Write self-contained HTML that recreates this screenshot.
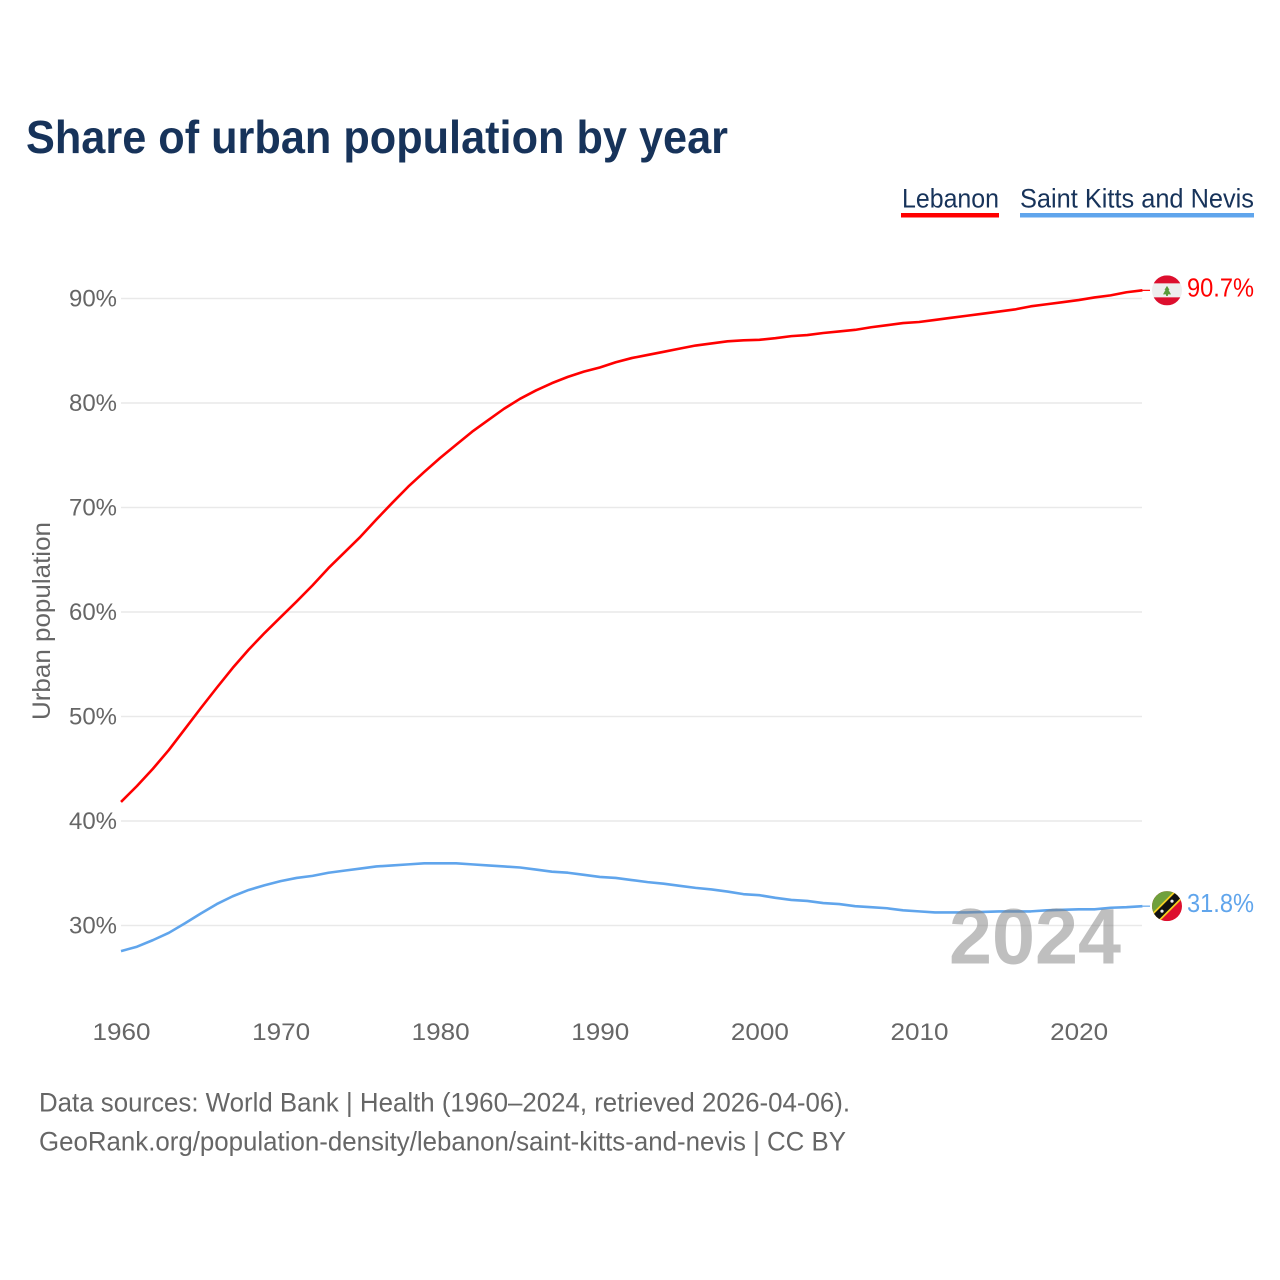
<!DOCTYPE html>
<html lang="en">
<head>
<meta charset="utf-8">
<title>Share of urban population by year</title>
<style>
html,body{margin:0;padding:0;background:#fff;width:1280px;height:1280px;overflow:hidden}
svg{display:block}
text{font-family:"Liberation Sans",sans-serif}
</style>
</head>
<body>
<svg id="chart" xmlns="http://www.w3.org/2000/svg" width="1280" height="1280" viewBox="0 0 1280 1280">
  <text x="26" y="153" font-size="46" font-weight="700" fill="#17335a" textLength="702" lengthAdjust="spacingAndGlyphs">Share of urban population by year</text>

  <g>
    <g>
      <text x="902" y="207.5" font-size="27" fill="#17335a" textLength="97" lengthAdjust="spacingAndGlyphs">Lebanon</text>
      <rect x="901" y="213" width="98" height="4.5" fill="#ff0000"></rect>
    </g>
    <g>
      <text x="1020" y="207.5" font-size="27" fill="#17335a" textLength="234" lengthAdjust="spacingAndGlyphs">Saint Kitts and Nevis</text>
      <rect x="1020" y="213" width="234" height="4.5" fill="#60a5ec"></rect>
    </g>
  </g>

  <text transform="translate(50,720) rotate(-90)" font-size="25" fill="#666666" textLength="198" lengthAdjust="spacingAndGlyphs">Urban population</text>

  <g id="grid"></g>
  <g id="y-ticks"></g>
  <g id="x-ticks"></g>
  <g id="series"></g>

  <text x="949" y="963.5" font-size="79" font-weight="700" fill="#808080" fill-opacity="0.5" textLength="172" lengthAdjust="spacingAndGlyphs">2024</text>

  <g id="end-lebanon">
    <defs>
      <clipPath id="clip-lb"><circle cx="0" cy="0" r="15"></circle></clipPath>
      <clipPath id="clip-kn"><circle cx="0" cy="0" r="15"></circle></clipPath>
    </defs>
    <g id="flag-lebanon" clip-path="url(#clip-lb)">
      <rect x="-15" y="-15" width="30" height="30" fill="#eeeeee"></rect>
      <rect x="-15" y="-15" width="30" height="8" fill="#dd0f2e"></rect>
      <rect x="-15" y="7" width="30" height="8" fill="#dd0f2e"></rect>
      <polygon points="0,-4.5 2.5,-0.5 1.5,-0.5 4,4 1,4 1,5.5 -1,5.5 -1,4 -4,4 -1.5,-0.5 -2.5,-0.5" fill="#5a9a3a"></polygon>
    </g>
  </g>
  <g id="end-kitts">
    <g id="flag-kitts" clip-path="url(#clip-kn)">
      <rect x="-15" y="-15" width="30" height="30" fill="#dd0f2e"></rect>
      <polygon points="-15,-15 15,-15 -15,15" fill="#6fa03c"></polygon>
      <line x1="-16" y1="16" x2="16" y2="-16" stroke="#f5d020" stroke-width="11"></line>
      <line x1="-16" y1="16" x2="16" y2="-16" stroke="#111111" stroke-width="7.5"></line>
      <circle cx="-5" cy="5" r="1.6" fill="#eeeeee"></circle>
      <circle cx="5" cy="-5" r="1.6" fill="#eeeeee"></circle>
    </g>
  </g>

  <text x="39" y="1111.5" font-size="26.5" fill="#666666" textLength="811" lengthAdjust="spacingAndGlyphs">Data sources: World Bank | Health (1960–2024, retrieved 2026-04-06).</text>
  <text x="39" y="1150.5" font-size="26.5" fill="#666666" textLength="807" lengthAdjust="spacingAndGlyphs">GeoRank.org/population-density/lebanon/saint-kitts-and-nevis | CC BY</text>
</svg>

<script>
const years = [1960,1961,1962,1963,1964,1965,1966,1967,1968,1969,1970,1971,1972,1973,1974,1975,1976,1977,1978,1979,1980,1981,1982,1983,1984,1985,1986,1987,1988,1989,1990,1991,1992,1993,1994,1995,1996,1997,1998,1999,2000,2001,2002,2003,2004,2005,2006,2007,2008,2009,2010,2011,2012,2013,2014,2015,2016,2017,2018,2019,2020,2021,2022,2023,2024];
const lebanonValues = [41.82,43.35,45.0,46.8,48.8,50.8,52.75,54.65,56.4,58.0,59.5,61.0,62.55,64.2,65.7,67.2,68.85,70.45,72.0,73.4,74.75,76.0,77.25,78.35,79.45,80.4,81.2,81.9,82.5,83.0,83.4,83.9,84.3,84.6,84.9,85.2,85.5,85.7,85.9,86.0,86.05,86.2,86.4,86.5,86.7,86.85,87.0,87.25,87.45,87.65,87.75,87.95,88.15,88.35,88.55,88.75,88.95,89.25,89.45,89.65,89.85,90.1,90.3,90.6,90.78];
const kittsValues = [27.55,27.97,28.6,29.3,30.2,31.15,32.05,32.8,33.4,33.85,34.25,34.55,34.75,35.05,35.25,35.45,35.65,35.75,35.85,35.95,35.95,35.95,35.85,35.75,35.65,35.55,35.35,35.15,35.05,34.85,34.65,34.55,34.35,34.15,34.0,33.8,33.6,33.45,33.25,33.0,32.9,32.65,32.45,32.35,32.15,32.05,31.85,31.75,31.65,31.45,31.35,31.25,31.25,31.25,31.3,31.35,31.35,31.35,31.45,31.5,31.55,31.55,31.7,31.75,31.85];
const yTickValues = [30,40,50,60,70,80,90];
const xTickValues = [1960,1970,1980,1990,2000,2010,2020];
const endLabels = ["90.7%","31.8%"];

const NS = 'http://www.w3.org/2000/svg';
const xScale = function (year) { return 121 + (year - 1960) * 15.96; };
const yScale = function (value) { return 925.5 - (value - 30) * 10.45; };

function make(tag, parent, attrs) {
  const el = document.createElementNS(NS, tag);
  Object.keys(attrs).forEach(function (k) { el.setAttribute(k, attrs[k]); });
  parent.appendChild(el);
  return el;
}

const gridGroup = document.getElementById('grid');
const yTickGroup = document.getElementById('y-ticks');
yTickValues.forEach(function (v) {
  const line = make('line', gridGroup, {x1: 121, x2: 1142, y1: yScale(v), y2: yScale(v), stroke: '#e9e9e9', 'stroke-width': 1.4});
  
  
  const label = make('text', yTickGroup, {x: 117, y: yScale(v) + 8, 'text-anchor': 'end', 'font-size': 24.5, fill: '#666666', textLength: 48, lengthAdjust: 'spacingAndGlyphs'});
  
  
  label.textContent = v + '%';
});

const xTickGroup = document.getElementById('x-ticks');
xTickValues.forEach(function (yr) {
  const label = make('text', xTickGroup, {x: xScale(yr) + 0.5, y: 1040, 'text-anchor': 'middle', 'font-size': 24.5, fill: '#666666', textLength: 58, lengthAdjust: 'spacingAndGlyphs'});
  
  
  label.textContent = yr;
});

const seriesGroup = document.getElementById('series');
function linePoints(values) {
  return values.map(function (v, i) { return xScale(years[i]).toFixed(2) + ',' + yScale(v).toFixed(2); }).join(' ');
}
const lebanonLine = make('polyline', seriesGroup, {points: linePoints(lebanonValues), fill: 'none', stroke: '#ff0000', 'stroke-width': 2.6, 'stroke-linejoin': 'round'});


const kittsLine = make('polyline', seriesGroup, {points: linePoints(kittsValues), fill: 'none', stroke: '#60a5ec', 'stroke-width': 2.6, 'stroke-linejoin': 'round'});



function placeEnd(groupId, flagId, values, text, color, nameA, nameB) {
  const endX = xScale(years[years.length - 1]);
  const endY = yScale(values[values.length - 1]);
  const group = document.getElementById(groupId);
  const connector = make('line', group, {x1: endX, x2: 1150, y1: endY, y2: endY, stroke: color, 'stroke-width': 1.2});
  
  
  document.getElementById(flagId).setAttribute('transform', 'translate(1167,' + endY.toFixed(2) + ')');
  const label = make('text', group, {x: 1187, y: endY + 6, 'font-size': 26, fill: color, textLength: 67, lengthAdjust: 'spacingAndGlyphs'});
  
  
  label.textContent = text;
}
placeEnd('end-lebanon', 'flag-lebanon', lebanonValues, endLabels[0], '#ff0000', 'connector-lebanon', 'value-label-lebanon');
placeEnd('end-kitts', 'flag-kitts', kittsValues, endLabels[1], '#60a5ec', 'connector-saint-kitts-and-nevis', 'value-label-saint-kitts-and-nevis');
</script>
</body>
</html>
